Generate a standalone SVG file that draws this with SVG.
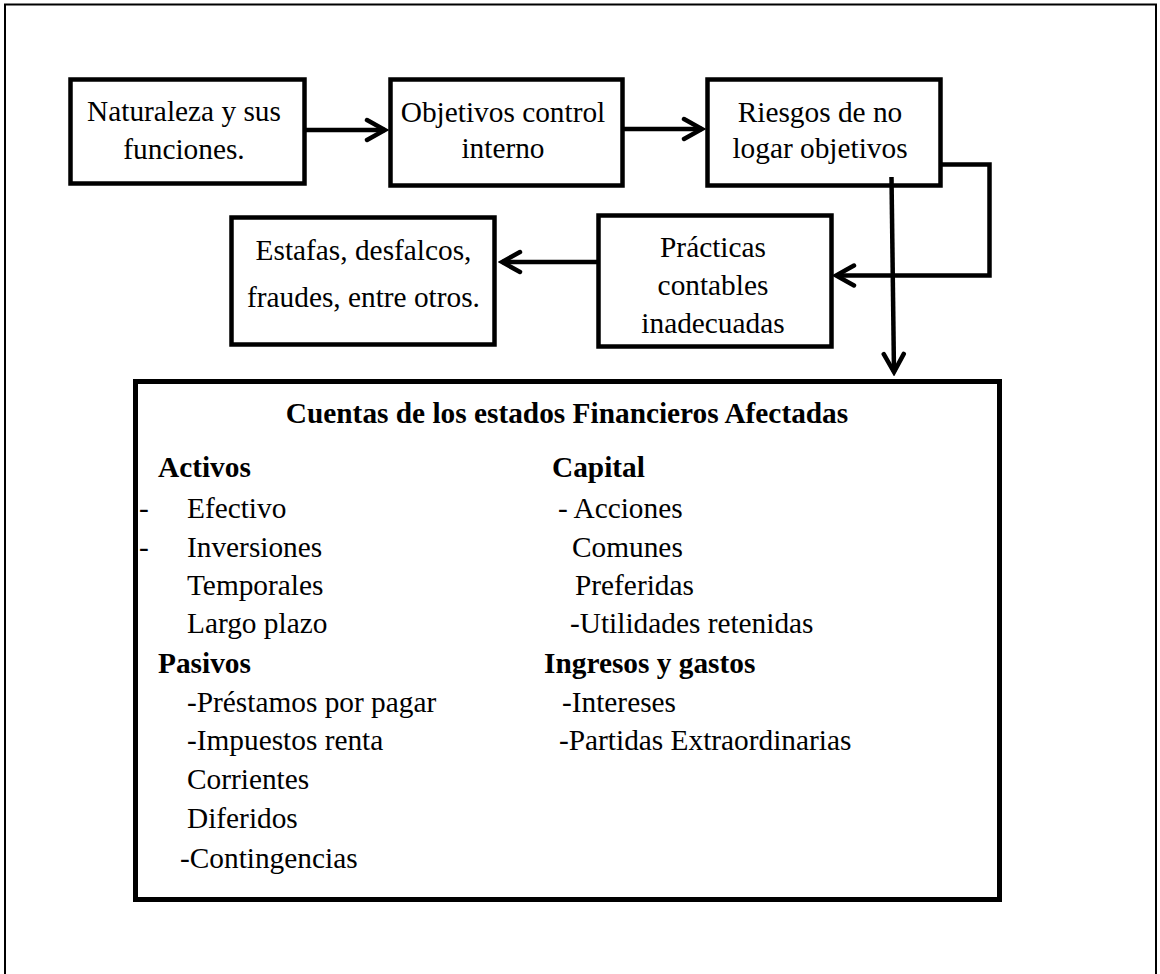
<svg xmlns="http://www.w3.org/2000/svg" width="1160" height="974" viewBox="0 0 1160 974">
<style>
text{font-family:"Liberation Serif","Times New Roman",serif;font-size:29.33px;fill:#000}
.c{text-anchor:middle}
.b{font-weight:bold}
.box{fill:#fff;stroke:#000;stroke-width:4.5}
.big{fill:#fff;stroke:#000;stroke-width:5}
.con{fill:none;stroke:#000;stroke-width:4.5}
</style>
<defs>
<marker id="ah" markerUnits="userSpaceOnUse" viewBox="-24 -14 28 28" refX="0" refY="0" markerWidth="28" markerHeight="28" orient="auto">
<path d="M-18,-10 L0,0 L-18,10" fill="none" stroke="#000" stroke-width="4.5" stroke-linecap="round"/>
</marker>
</defs>
<rect width="1160" height="974" fill="#fff"/>
<path d="M5,980 V4.5 H1156 V980" fill="none" stroke="#000" stroke-width="2"/>

<g id="n1">
<rect class="box" x="70.5" y="79.5" width="234" height="104"/>
<text class="c" x="184" y="121">Naturaleza y sus</text>
<text class="c" x="184" y="159">funciones.</text>
</g>
<g id="n2">
<rect class="box" x="390.5" y="79.5" width="232" height="106"/>
<text class="c" x="503" y="122">Objetivos control</text>
<text class="c" x="503" y="158">interno</text>
</g>
<g id="n3">
<rect class="box" x="707.5" y="79.5" width="233" height="106"/>
<text class="c" x="820" y="122">Riesgos de no</text>
<text class="c" x="820" y="158">logar objetivos</text>
</g>
<g id="n4">
<rect class="box" x="598.5" y="215.5" width="233" height="131"/>
<text class="c" x="713" y="257">Prácticas</text>
<text class="c" x="713" y="295">contables</text>
<text class="c" x="713" y="333">inadecuadas</text>
</g>
<g id="n5">
<rect class="box" x="231.5" y="217.5" width="263" height="127"/>
<text class="c" x="363.5" y="260">Estafas, desfalcos,</text>
<text class="c" x="363.5" y="307">fraudes, entre otros.</text>
</g>
<g id="n6">
<rect class="big" x="135.5" y="381.5" width="864" height="518"/>
<text class="c b" x="567" y="423">Cuentas de los estados Financieros Afectadas</text>
<text class="b" x="158" y="477">Activos</text>
<text x="139" y="518">-</text>
<text x="187" y="518">Efectivo</text>
<text x="139" y="557">-</text>
<text x="187" y="557">Inversiones</text>
<text x="187" y="595">Temporales</text>
<text x="187" y="633">Largo plazo</text>
<text class="b" x="158" y="673">Pasivos</text>
<text x="187" y="712">-Préstamos por pagar</text>
<text x="187" y="750">-Impuestos renta</text>
<text x="187" y="789">Corrientes</text>
<text x="187" y="828">Diferidos</text>
<text x="180" y="868">-Contingencias</text>
<text class="b" x="552" y="477">Capital</text>
<text x="558" y="518">- Acciones</text>
<text x="572" y="557">Comunes</text>
<text x="575" y="595">Preferidas</text>
<text x="570" y="633">-Utilidades retenidas</text>
<text class="b" x="544" y="673">Ingresos y gastos</text>
<text x="562" y="712">-Intereses</text>
<text x="559" y="750">-Partidas Extraordinarias</text>
</g>

<g id="connectors">
<line class="con" x1="306" y1="130" x2="385" y2="130" marker-end="url(#ah)"/>
<line class="con" x1="624" y1="129" x2="702" y2="129" marker-end="url(#ah)"/>
<path class="con" d="M942,164.5 H989.5 V275.5 H836" stroke-width="5" marker-end="url(#ah)"/>
<line class="con" x1="598" y1="262" x2="502" y2="262" marker-end="url(#ah)"/>
<line class="con" x1="891.5" y1="177" x2="894" y2="372" marker-end="url(#ah)"/>
</g>
</svg>
